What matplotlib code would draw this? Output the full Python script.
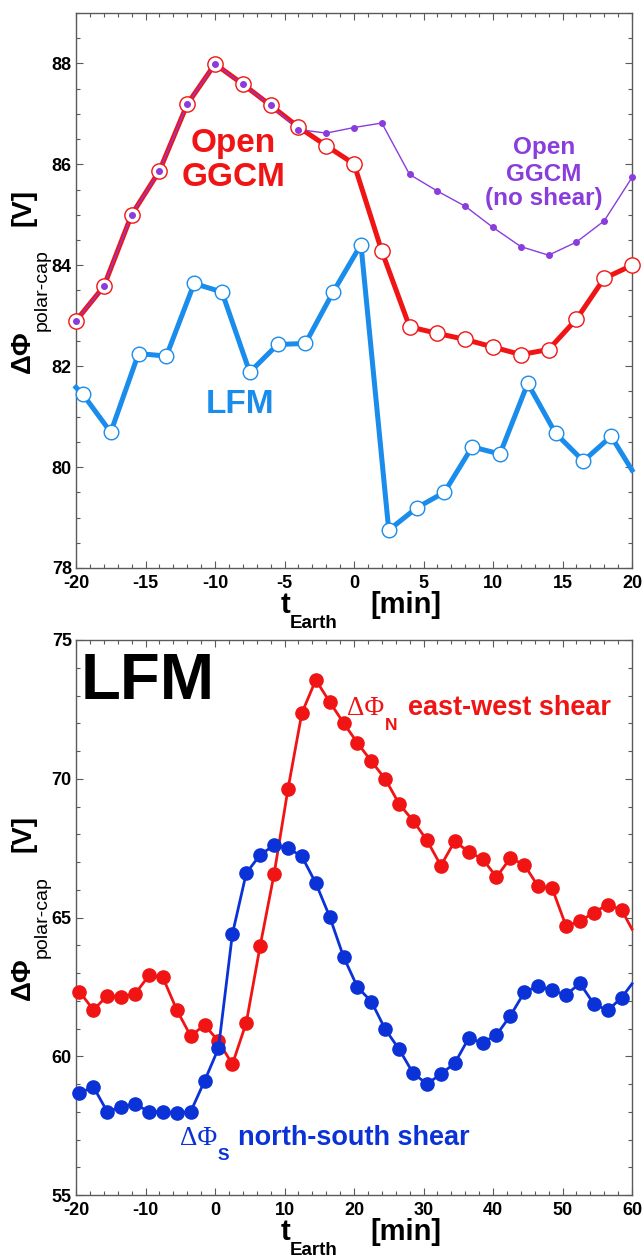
import numpy as np
import matplotlib
matplotlib.use('Agg')
import matplotlib.pyplot as plt
from matplotlib.ticker import MultipleLocator

plt.rcParams['font.family'] = ['Liberation Sans', 'DejaVu Sans']
plt.rcParams['font.weight'] = 'bold'
plt.rcParams['axes.unicode_minus'] = False

# polar cap potential, upper panel (OpenGGCM vs LFM)
t_ggcm = [-20, -18, -16, -14, -12, -10, -8, -6, -4, -2, 0,
          2, 4, 6, 8, 10, 12, 14, 16, 18, 20]
ggcm = [82.90, 83.58, 85.00, 85.87, 87.19, 87.99, 87.59, 87.17, 86.74, 86.37, 86.01,
        84.28, 82.78, 82.65, 82.53, 82.38, 82.23, 82.33, 82.93, 83.74, 84.00]
ggcm_noshear = [82.90, 83.58, 85.00, 85.87, 87.19, 87.99, 87.59, 87.17, 86.69, 86.62, 86.73,
                86.82, 85.80, 85.47, 85.17, 84.75, 84.37, 84.20, 84.46, 84.88, 85.74]

t_lfm = [-20, -19.5, -17.5, -15.5, -13.5, -11.5, -9.5, -7.5, -5.5, -3.5, -1.5,
         0.5, 2.5, 4.5, 6.5, 8.5, 10.5, 12.5, 14.5, 16.5, 18.5, 20]
lfm = [81.58, 81.44, 80.69, 82.25, 82.20, 83.64, 83.47, 81.88, 82.43, 82.45, 83.47,
       84.41, 78.75, 79.19, 79.50, 80.40, 80.26, 81.66, 80.67, 80.12, 80.61, 79.94]

# lower panel, LFM north / south potentials
t_ns = [-19.5, -17.5, -15.5, -13.5, -11.5, -9.5, -7.5, -5.5, -3.5, -1.5,
        0.5, 2.5, 4.5, 6.5, 8.5, 10.5, 12.5, 14.5, 16.5, 18.5,
        20.5, 22.5, 24.5, 26.5, 28.5, 30.5, 32.5, 34.5, 36.5, 38.5,
        40.5, 42.5, 44.5, 46.5, 48.5, 50.5, 52.5, 54.5, 56.5, 58.5, 60]
phi_n = [62.33, 61.67, 62.18, 62.15, 62.25, 62.91, 62.84, 61.67, 60.73, 61.13,
         60.54, 59.71, 61.21, 63.98, 66.56, 69.63, 72.37, 73.56, 72.77, 72.01,
         71.29, 70.63, 69.99, 69.09, 68.49, 67.78, 66.87, 67.75, 67.36, 67.11,
         66.46, 67.14, 66.90, 66.12, 66.06, 64.70, 64.86, 65.18, 65.46, 65.28, 64.58]
phi_s = [58.67, 58.90, 58.00, 58.18, 58.28, 58.00, 58.00, 57.97, 58.00, 59.11,
         60.29, 64.40, 66.60, 67.26, 67.60, 67.50, 67.20, 66.24, 65.03, 63.58,
         62.49, 61.97, 60.97, 60.25, 59.39, 59.00, 59.36, 59.75, 60.65, 60.49,
         60.77, 61.46, 62.30, 62.54, 62.37, 62.21, 62.63, 61.89, 61.65, 62.11, 62.61]

RED = '#f01414'
PURPLE = '#8a3cdc'
LBLUE = '#1a8ceb'
DBLUE = '#0a32d7'
W, H = 644, 1257


def fx(px):
    return px / W


def fy(py):
    return 1 - py / H


fig = plt.figure(figsize=(W / 100, H / 100), dpi=100)
ax1 = fig.add_axes([fx(76), fy(568), 556 / W, 555 / H])
ax2 = fig.add_axes([fx(76), fy(1195), 556 / W, 555 / H])

# ---- upper panel ----
ax1.plot(t_ggcm, ggcm, color=RED, lw=3.6, zorder=3)
ax1.plot(t_ggcm, ggcm_noshear, color=PURPLE, lw=1.0, zorder=4)
ax1.plot(t_ggcm, ggcm, ls='none', marker='o', ms=11, mfc='white', mec=RED,
         mew=1.0, zorder=5, clip_on=False)
ax1.plot(t_ggcm, ggcm_noshear, ls='none', marker='o', ms=4, mfc=PURPLE, mec=PURPLE,
         zorder=6, clip_on=False)
ax1.plot(t_lfm, lfm, color=LBLUE, lw=3.6, marker='o', ms=10.5, mfc='white', mec=LBLUE,
         mew=1.0, markevery=list(range(1, len(t_lfm) - 1)), zorder=3, clip_on=False)

ax1.text(-8.7, 86.24, 'Open', color=RED, fontsize=24, ha='center', va='baseline')
ax1.text(-8.7, 85.58, 'GGCM', color=RED, fontsize=24, ha='center', va='baseline')
ax1.text(13.67, 86.20, 'Open', color=PURPLE, fontsize=17.5, ha='center', va='baseline')
ax1.text(13.67, 85.68, 'GGCM', color=PURPLE, fontsize=17.5, ha='center', va='baseline')
ax1.text(13.67, 85.19, '(no shear)', color=PURPLE, fontsize=17.5, ha='center', va='baseline')
ax1.text(-8.2, 81.07, 'LFM', color=LBLUE, fontsize=24, ha='center', va='baseline')

ax1.set_xlim(-20, 20)
ax1.set_ylim(78, 89)
ax1.xaxis.set_major_locator(MultipleLocator(5))
ax1.xaxis.set_minor_locator(MultipleLocator(1))
ax1.yaxis.set_minor_locator(MultipleLocator(0.5))
ax1.set_yticks([78, 80, 82, 84, 86, 88])

# ---- lower panel ----
ax2.plot(t_ns, phi_n, color=RED, lw=2.0, marker='o', ms=9.5, mec=RED,
         markevery=list(range(len(t_ns) - 1)), zorder=3, clip_on=False)
ax2.plot(t_ns, phi_s, color=DBLUE, lw=2.0, marker='o', ms=9.5, mec=DBLUE,
         markevery=list(range(len(t_ns) - 1)), zorder=4, clip_on=False)
ax2.set_xlim(-20, 60)
ax2.set_ylim(55, 75)

ax2.text(-19.3, 72.89, 'LFM', color='black', fontsize=47, ha='left', va='baseline')
ax2.text(19.0, 72.31, 'ΔΦ', color=RED, fontsize=19.5, family='Liberation Serif',
         fontweight='normal', ha='left', va='baseline')
ax2.text(24.4, 71.77, 'N', color=RED, fontsize=12.5, ha='left', va='baseline')
ax2.text(27.8, 72.31, 'east-west shear', color=RED, fontsize=19.5, ha='left', va='baseline')
ax2.text(-5.1, 56.80, 'ΔΦ', color=DBLUE, fontsize=19.5, family='Liberation Serif',
         fontweight='normal', ha='left', va='baseline')
ax2.text(0.35, 56.26, 'S', color=DBLUE, fontsize=12.5, ha='left', va='baseline')
ax2.text(3.3, 56.80, 'north-south shear', color=DBLUE, fontsize=19.5, ha='left', va='baseline')

ax2.xaxis.set_major_locator(MultipleLocator(10))
ax2.xaxis.set_minor_locator(MultipleLocator(2))
ax2.yaxis.set_major_locator(MultipleLocator(5))
ax2.yaxis.set_minor_locator(MultipleLocator(1))

for ax in (ax1, ax2):
    for sp in ax.spines.values():
        sp.set_color('#5a5a5a')
        sp.set_linewidth(1.0)
    ax.tick_params(which='both', direction='in', top=True, right=True,
                   color='#5a5a5a', width=0.8, labelsize=13)
    ax.tick_params(which='major', length=5)
    ax.tick_params(which='minor', length=3)
    ax.tick_params(axis='x', pad=5)
    ax.tick_params(axis='y', pad=3)

# axis labels built from pieces so the subscripts sit low like the originals
for top, mid in ((568, 290), (1195, 917)):
    fig.text(fx(23), fy(mid - 83), '[V]', fontsize=20, rotation=90,
             ha='center', va='center')
    fig.text(fx(42), fy(mid), 'polar-cap', fontsize=14, fontweight='normal',
             rotation=90, ha='center', va='center')
    fig.text(fx(23), fy(mid + 62), 'ΔΦ', fontsize=20, rotation=90,
             ha='center', va='center')
    fig.text(fx(281), fy(top + 45), 't', fontsize=21, ha='left', va='baseline')
    fig.text(fx(290), fy(top + 60), 'Earth', fontsize=13.5, ha='left', va='baseline')
    fig.text(fx(370), fy(top + 45), '[min]', fontsize=21, ha='left', va='baseline')

fig.savefig('out.png', dpi=100, facecolor='white')
